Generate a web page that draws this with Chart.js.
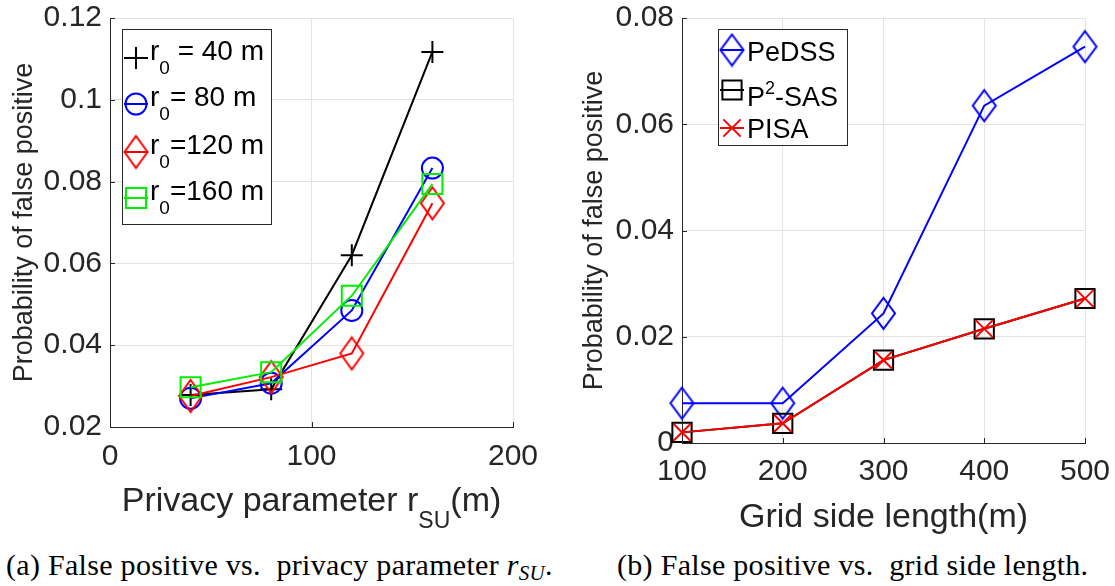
<!DOCTYPE html>
<html>
<head>
<meta charset="utf-8">
<script src="https://cdn.jsdelivr.net/npm/chart.js@4.4.1/dist/chart.umd.min.js"></script>
<style>
html, body { margin: 0; padding: 0; background: #fff; }
body { width: 1115px; height: 586px; position: relative; overflow: hidden; }
.box { position: absolute; top: 0; height: 545px; }
#boxA { left: 0; width: 557px; }
#boxB { left: 557px; width: 558px; }
.cap { position: absolute; top: 547px; font-family: "Liberation Serif", serif; font-size: 30px; letter-spacing: 0.3px; line-height: 36px; color: #000; white-space: nowrap; }
#capA { left: 6px; }
#capB { left: 617px; }
.cap .s { font-size: 70%; vertical-align: -5px; }
</style>
</head>
<body>
<div class="box" id="boxA"><canvas id="chartA"></canvas></div>
<div class="box" id="boxB"><canvas id="chartB"></canvas></div>
<div class="cap" id="capA">(a) False positive vs.&nbsp; privacy parameter <i>r<span class="s">SU</span></i>.</div>
<div class="cap" id="capB">(b) False positive vs.&nbsp; grid side length.</div>
<script>
// (a) false positive vs privacy parameter r_SU
const rSU = [40, 80, 120, 160];
const fpR40 = [0.0278, 0.0292, 0.062, 0.1117];
const fpR80 = [0.027, 0.0307, 0.0485, 0.0833];
const fpR120 = [0.0276, 0.0322, 0.038, 0.0747];
const fpR160 = [0.0297, 0.0334, 0.0521, 0.0794];
const namesA = [['r', '0', ' = 40 m'], ['r', '0', '= 80 m'], ['r', '0', '=120 m'], ['r', '0', '=160 m']];
const xTicksA = [0, 100, 200];
const yTicksA = [0.02, 0.04, 0.06, 0.08, 0.1, 0.12];

// (b) false positive vs grid side length
const gridSide = [100, 200, 300, 400, 500];
const fpPeDSS = [0.0075, 0.0075, 0.0244, 0.0635, 0.0746];
const fpP2SAS = [0.002, 0.0037, 0.0156, 0.0215, 0.0272];
const fpPISA = [0.002, 0.0037, 0.0156, 0.0215, 0.0272];
const namesB = [['PeDSS', '', ''], ['P', '2', '-SAS'], ['PISA', '', '']];
const xTicksB = [100, 200, 300, 400, 500];
const yTicksB = [0, 0.02, 0.04, 0.06, 0.08];

const FONT = '"Liberation Sans", Arial, sans-serif';
const INK = '#262626';
const GRID = '#e3e3e3';
Chart.defaults.font.family = FONT;
Chart.defaults.animation = false;

function pts(xs, ys) {
    return xs.map((x, i) => ({ x: x, y: ys[i] }));
}

function diamond(color, hw, hh, lw) {
    const c = document.createElement('canvas');
    c.width = 2 * hw + 2 * lw;
    c.height = 2 * hh + 2 * lw;
    const g = c.getContext('2d');
    const cx = c.width / 2, cy = c.height / 2;
    g.strokeStyle = color;
    g.lineWidth = lw;
    g.beginPath();
    g.moveTo(cx, cy - hh);
    g.lineTo(cx + hw, cy);
    g.lineTo(cx, cy + hh);
    g.lineTo(cx - hw, cy);
    g.closePath();
    g.stroke();
    return c;
}

function serie(label, data, color, style, radius, order) {
    return {
        label: label,
        data: data,
        borderColor: color,
        borderWidth: 2,
        pointStyle: style,
        pointRadius: radius,
        pointBorderColor: color,
        pointBackgroundColor: 'rgba(0,0,0,0)',
        pointBorderWidth: 2,
        tension: 0,
        fill: false,
        clip: false,
        order: order
    };
}

function label2(v) {
    return String(Number(v.toFixed(2)));
}

// inner tick marks like matlab
const innerTicks = {
    id: 'innerTicks',
    afterDraw(chart) {
        const ctx = chart.ctx, a = chart.chartArea;
        const sx = chart.scales.x, sy = chart.scales.y;
        ctx.save();
        ctx.strokeStyle = INK;
        ctx.lineWidth = 1;
        ctx.beginPath();
        sx.ticks.forEach(t => {
            const px = Math.round(sx.getPixelForValue(t.value)) + 0.5;
            ctx.moveTo(px, a.bottom);
            ctx.lineTo(px, a.bottom - 5);
        });
        sy.ticks.forEach(t => {
            const py = Math.round(sy.getPixelForValue(t.value)) + 0.5;
            ctx.moveTo(a.left, py);
            ctx.lineTo(a.left + 5, py);
        });
        ctx.stroke();
        ctx.restore();
    }
};

function richText(ctx, x, y, base, script, rest, sup, size) {
    ctx.font = size + 'px ' + FONT;
    ctx.fillText(base, x, y);
    x += ctx.measureText(base).width;
    if (script) {
        const s2 = Math.round(size * 0.68);
        ctx.font = s2 + 'px ' + FONT;
        ctx.fillText(script, x, sup ? y - size * 0.45 : y + size * 0.5);
        x += ctx.measureText(script).width;
    }
    ctx.font = size + 'px ' + FONT;
    ctx.fillText(rest, x, y);
}

function richWidth(ctx, base, script, rest, size) {
    ctx.font = size + 'px ' + FONT;
    let w = ctx.measureText(base).width + ctx.measureText(rest).width;
    ctx.font = Math.round(size * 0.68) + 'px ' + FONT;
    return w + (script ? ctx.measureText(script).width : 0);
}

// legend box with marker + line, drawn by hand
const boxLegend = {
    id: 'boxLegend',
    afterDraw(chart, args, opts) {
        const ctx = chart.ctx;
        const b = opts.box;
        ctx.save();
        ctx.fillStyle = '#fff';
        ctx.fillRect(b[0], b[1], b[2] - b[0], b[3] - b[1]);
        ctx.strokeStyle = INK;
        ctx.lineWidth = 1;
        ctx.strokeRect(b[0] + 0.5, b[1] + 0.5, b[2] - b[0], b[3] - b[1]);
        opts.rows.forEach((row, i) => {
            const ds = chart.data.datasets[row.ds];
            const y = row.y;
            ctx.strokeStyle = ds.borderColor;
            ctx.lineWidth = 2;
            ctx.beginPath();
            ctx.moveTo(opts.mx - 12, y);
            ctx.lineTo(opts.mx + 12, y);
            ctx.stroke();
            ctx.fillStyle = 'rgba(0,0,0,0)';
            Chart.helpers.drawPoint(ctx, { pointStyle: ds.pointStyle, radius: ds.pointRadius, borderWidth: 2, rotation: 0 }, opts.mx, y);
            ctx.fillStyle = '#000';
            ctx.textBaseline = 'alphabetic';
            ctx.textAlign = 'left';
            const n = opts.names[i];
            richText(ctx, opts.tx, y + row.dy, n[0], n[1], n[2], opts.sup, opts.size);
        });
        ctx.restore();
    }
};

// x axis title, with sub/superscript support
const xTitle = {
    id: 'xTitle',
    afterDraw(chart, args, opts) {
        const ctx = chart.ctx, a = chart.chartArea;
        ctx.save();
        ctx.fillStyle = INK;
        ctx.textBaseline = 'alphabetic';
        ctx.textAlign = 'left';
        const w = richWidth(ctx, opts.parts[0], opts.parts[1], opts.parts[2], opts.size);
        richText(ctx, (a.left + a.right) / 2 - w / 2, opts.y, opts.parts[0], opts.parts[1], opts.parts[2], false, opts.size);
        ctx.restore();
    }
};

function axes(xmin, xmax, xt, ymin, ymax, yt, ywidth, xheight, xtPad, ytPad) {
    return {
        x: {
            type: 'linear', min: xmin, max: xmax,
            afterBuildTicks: s => { s.ticks = xt.map(v => ({ value: v })); },
            afterFit: s => { s.height = xheight; s.paddingLeft = 0; s.paddingRight = 0; },
            ticks: { color: INK, font: { size: 30, lineHeight: 1 }, padding: xtPad, maxRotation: 0, autoSkip: false },
            grid: { color: GRID, drawTicks: false },
            border: { color: INK, width: 1 }
        },
        y: {
            type: 'linear', min: ymin, max: ymax,
            afterBuildTicks: s => { s.ticks = yt.map(v => ({ value: v })); },
            afterFit: s => { s.width = ywidth; s.paddingTop = 0; s.paddingBottom = 0; },
            ticks: { color: INK, font: { size: 30, lineHeight: 1 }, padding: 8, callback: v => label2(v) },
            grid: { color: GRID, drawTicks: false },
            border: { color: INK, width: 1 },
            title: { display: true, text: 'Probability of false positive', color: INK, font: { size: 27, lineHeight: 1 }, padding: { top: ytPad, bottom: 0 } }
        }
    };
}

new Chart(document.getElementById('chartA'), {
    type: 'line',
    data: {
        datasets: [
            serie('r0 = 40 m', pts(rSU, fpR40), '#000000', 'cross', 11, 4),
            serie('r0= 80 m', pts(rSU, fpR80), '#0000ff', 'circle', 10.5, 3),
            serie('r0=120 m', pts(rSU, fpR120), '#ff0000', diamond('#ff0000', 11.5, 16, 2), 16, 2),
            serie('r0=160 m', pts(rSU, fpR160), '#00ee00', 'rect', 14.2, 1)
        ]
    },
    options: {
        responsive: true,
        maintainAspectRatio: false,
        layout: { padding: { left: 0, top: 16, right: 44, bottom: 0 } },
        scales: axes(0, 200, xTicksA, 0.02, 0.12, yTicksA, 110, 118, 15, 11),
        plugins: {
            legend: { display: false },
            tooltip: { enabled: false },
            boxLegend: {
                box: [122, 29, 271, 224], mx: 136, tx: 150, size: 28, sup: false,
                names: namesA,
                rows: [{ ds: 0, y: 58, dy: 2 }, { ds: 1, y: 104, dy: 2 }, { ds: 2, y: 152, dy: 2 }, { ds: 3, y: 198, dy: 2 }]
            },
            xTitle: { parts: ['Privacy parameter r', 'SU', '(m)'], size: 34, y: 511 }
        }
    },
    plugins: [innerTicks, boxLegend, xTitle]
});

new Chart(document.getElementById('chartB'), {
    type: 'line',
    data: {
        datasets: [
            serie('PeDSS', pts(gridSide, fpPeDSS), '#0000ff', diamond('#0000ff', 11.5, 15.5, 2), 16, 3),
            serie('P2-SAS', pts(gridSide, fpP2SAS), '#000000', 'rect', 13.6, 2),
            serie('PISA', pts(gridSide, fpPISA), '#ff0000', 'crossRot', 12.2, 1)
        ]
    },
    options: {
        responsive: true,
        maintainAspectRatio: false,
        layout: { padding: { left: 0, top: 16, right: 30, bottom: 0 } },
        scales: axes(100, 500, xTicksB, 0, 0.08, yTicksB, 125, 102, 14, 24),
        plugins: {
            legend: { display: false },
            tooltip: { enabled: false },
            boxLegend: {
                box: [161, 29, 290, 145], mx: 175, tx: 190, size: 27, sup: true,
                names: namesB,
                rows: [{ ds: 0, y: 50, dy: 11 }, { ds: 1, y: 90, dy: 16 }, { ds: 2, y: 128, dy: 10 }]
            },
            xTitle: { parts: ['Grid side length(m)', '', ''], size: 34, y: 527 }
        }
    },
    plugins: [innerTicks, boxLegend, xTitle]
});
</script>
</body>
</html>
